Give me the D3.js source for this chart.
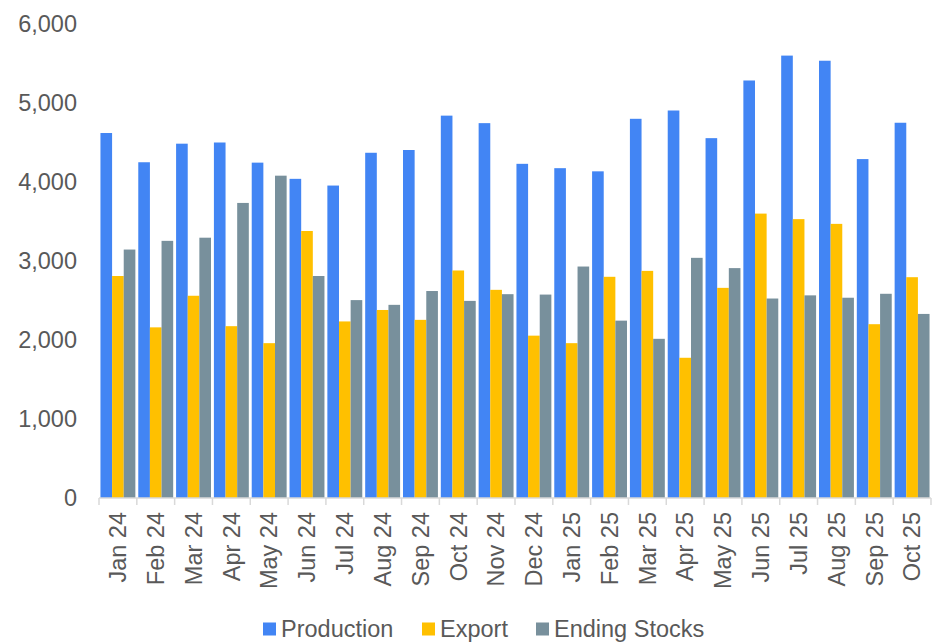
<!DOCTYPE html>
<html>
<head>
<meta charset="utf-8">
<script src="https://cdn.jsdelivr.net/npm/d3@7"></script>
<style>
  html, body { margin: 0; padding: 0; background: #fff; }
  svg { display: block; font-family: "Liberation Sans", Arial, sans-serif; }
</style>
</head>
<body>
<svg id="chart" width="945" height="643"></svg>
<script>
// Monthly balance (thousand tonnes)
const months = ["Jan 24","Feb 24","Mar 24","Apr 24","May 24","Jun 24","Jul 24","Aug 24","Sep 24","Oct 24","Nov 24","Dec 24",
                "Jan 25","Feb 25","Mar 25","Apr 25","May 25","Jun 25","Jul 25","Aug 25","Sep 25","Oct 25"];
const production = [4620,4250,4485,4500,4245,4040,3955,4370,4405,4840,4745,4230,4175,4135,4800,4905,4555,5285,5600,5535,4290,4750];
const exportVals = [2810,2160,2560,2175,1960,3380,2235,2380,2255,2880,2635,2055,1960,2800,2875,1775,2660,3600,3530,3470,2200,2795];
const endingStocks = [3145,3255,3295,3735,4080,2810,2505,2445,2620,2495,2580,2575,2930,2245,2015,3040,2910,2525,2565,2535,2585,2330];
const seriesNames = ["Production","Export","Ending Stocks"];
const seriesColors = ["#4285F4","#FFC000","#78909C"];
const yTicks = [0,1000,2000,3000,4000,5000,6000];

const series = [production, exportVals, endingStocks];
const svg = d3.select("#chart");
const margin = {left: 99, right: 14, top: 24, bottom: 145};
const W = 945, H = 643;
const x0 = margin.left, x1 = W - margin.right;
const yBottom = H - margin.bottom;

const x = d3.scaleBand().domain(months).range([x0, x1]).paddingInner(0).paddingOuter(0);
const y = d3.scaleLinear().domain([0, 6000]).range([yBottom, margin.top]);
const inner = d3.scaleBand().domain(d3.range(3)).range([0, x.bandwidth()]).paddingOuter(0.125).paddingInner(0);

const textColor = "#595959";
const fontSize = 23.5;

// Bars
const groups = svg.append("g").selectAll("g")
  .data(months)
  .join("g")
  .attr("transform", d => `translate(${x(d)},0)`);

groups.selectAll("rect")
  .data((m, i) => series.map((s, k) => ({k, v: s[i]})))
  .join("rect")
  .attr("x", d => inner(d.k))
  .attr("width", inner.bandwidth())
  .attr("y", d => y(d.v))
  .attr("height", d => yBottom - y(d.v))
  .attr("fill", d => seriesColors[d.k]);

// Y axis (labels only)
const yAxis = svg.append("g")
  .attr("transform", `translate(${x0},0)`)
  .call(d3.axisLeft(y).tickValues(yTicks).tickFormat(d3.format(",")).tickSize(0).tickPadding(22));
yAxis.select(".domain").remove();
yAxis.selectAll("text")
  .attr("fill", textColor)
  .style("font-size", fontSize + "px")
  .style("font-family", "'Liberation Sans', Arial, sans-serif");

// X axis baseline with category boundary ticks
const xAxisG = svg.append("g").attr("transform", `translate(0,${yBottom})`);
xAxisG.append("line")
  .attr("x1", x0).attr("x2", x1).attr("y1", 0).attr("y2", 0)
  .attr("stroke", "#d9d9d9").attr("stroke-width", 1.5);
const boundaries = months.map(m => x(m)).concat([x1]);
xAxisG.selectAll("line.tick")
  .data(boundaries)
  .join("line")
  .attr("class", "tick")
  .attr("x1", d => d).attr("x2", d => d)
  .attr("y1", 0).attr("y2", 7)
  .attr("stroke", "#d9d9d9").attr("stroke-width", 1.5);

xAxisG.selectAll("text")
  .data(months)
  .join("text")
  .attr("transform", d => `translate(${x(d) + x.bandwidth() / 2},14) rotate(-90)`)
  .attr("text-anchor", "end")
  .attr("dy", "0.35em")
  .attr("fill", textColor)
  .style("font-size", fontSize + "px")
  .text(d => d);

// Legend
const legendItems = [
  {name: seriesNames[0], color: seriesColors[0], x: 263},
  {name: seriesNames[1], color: seriesColors[1], x: 422},
  {name: seriesNames[2], color: seriesColors[2], x: 536}
];
const legendY = 629;
const lg = svg.append("g").selectAll("g")
  .data(legendItems)
  .join("g")
  .attr("transform", d => `translate(${d.x},${legendY})`);
lg.append("rect")
  .attr("x", 0).attr("y", -6.5)
  .attr("width", 13).attr("height", 13)
  .attr("fill", d => d.color);
lg.append("text")
  .attr("x", 18).attr("y", 0).attr("dy", "0.35em")
  .attr("fill", textColor)
  .style("font-size", fontSize + "px")
  .text(d => d.name);
</script>
</body>
</html>
